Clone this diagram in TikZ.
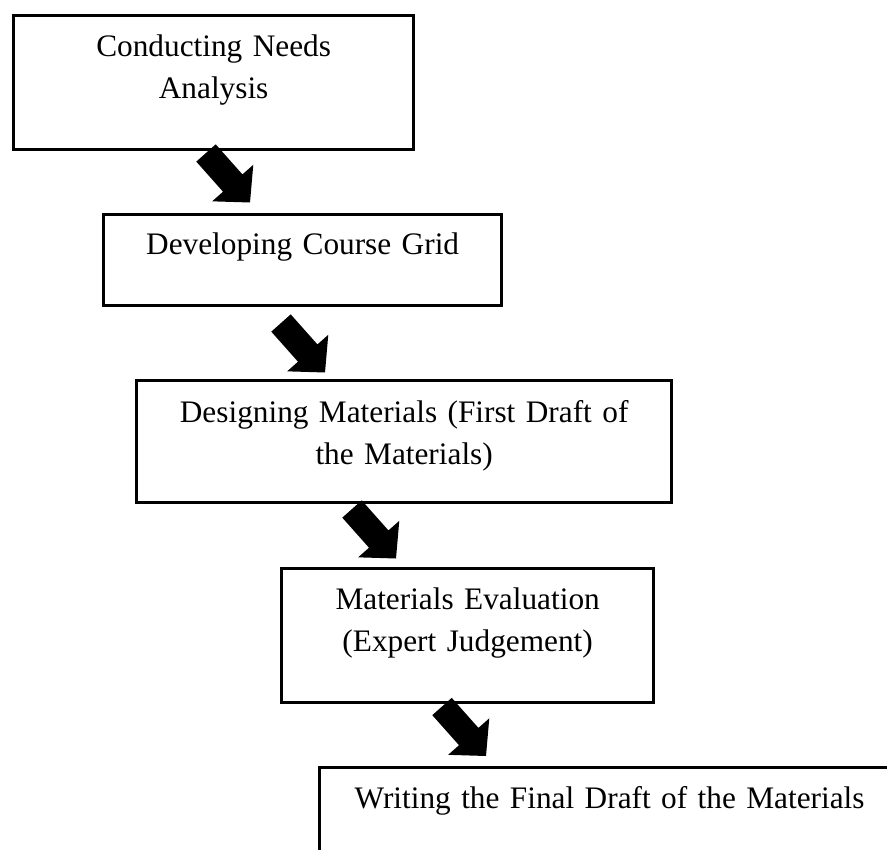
\documentclass[tikz,border=0pt]{standalone}
\usepackage{fontspec}
\setmainfont{Liberation Serif}
\usetikzlibrary{calc}
\tikzset{
  box/.style={draw, line width=3.3pt, anchor=north west, inner sep=0pt,
    align=center, font=\fontsize{31.3}{41.7}\selectfont},
  blk/.style={fill=black}
}
\newcommand{\blkarrow}[3]{%
  \coordinate (#3) at ($(#2)!26pt!(#1)$);
  \fill[blk] ($(#1)!13pt!90:(#2)$) -- ($(#3)!13pt!90:(#2)$) -- ($(#3)!27.5pt!90:(#2)$)
    -- (#2) -- ($(#3)!27.5pt!-90:(#2)$) -- ($(#3)!13pt!-90:(#2)$)
    -- ($(#1)!13pt!-90:(#2)$) -- cycle;}
\begin{document}
\begin{tikzpicture}[x=1pt,y=-1pt]
\clip (0,0) rectangle (887,850);
\fill[white] (0,0) rectangle (887,850);
\node[box, text width=400pt, text height=41pt, text depth=93pt] (b1) at (12,14) {Conducting Needs\\Analysis};
\node[box, text width=398pt, text height=40pt, text depth=51pt] (b2) at (102,213) {Developing Course Grid};
\node[box, text width=535pt, text height=42pt, text depth=80pt] (b3) at (135,379) {Designing Materials (First Draft of\\the Materials)};
\node[box, text width=372pt, text height=41pt, text depth=93pt] (b4) at (280,567) {Materials Evaluation\\(Expert Judgement)};
\node[box, text width=580pt, text height=41pt, text depth=94pt] (b5) at (318,766) {Writing the Final Draft of the Materials};
\coordinate (s1) at (206,153);   \coordinate (e1) at (250,202.5);
\coordinate (s2) at (281,323);   \coordinate (e2) at (325,372.5);
\coordinate (s3) at (352,509);   \coordinate (e3) at (396,558.5);
\coordinate (s4) at (442,706.5); \coordinate (e4) at (486,756);
\blkarrow{s1}{e1}{h1}
\blkarrow{s2}{e2}{h2}
\blkarrow{s3}{e3}{h3}
\blkarrow{s4}{e4}{h4}
\end{tikzpicture}
\end{document}
